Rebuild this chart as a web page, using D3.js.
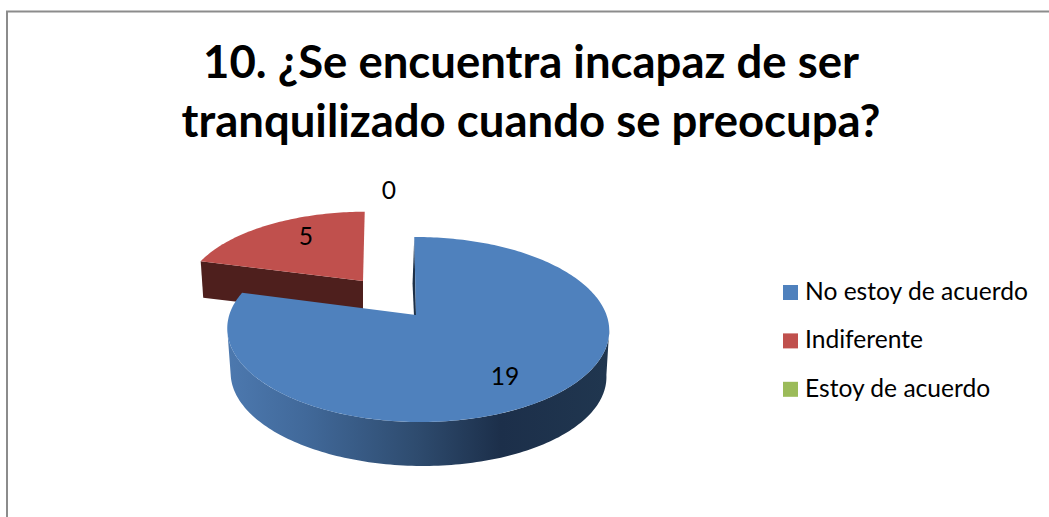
<!DOCTYPE html>
<html>
<head>
<meta charset="utf-8">
<script src="https://cdn.jsdelivr.net/npm/d3@7"></script>
<style>
  html, body { margin: 0; padding: 0; background: #fff; overflow: hidden; }
  text { font-family: Lato, "Open Sans", sans-serif; fill: #000; }
</style>
</head>
<body>
<div id="chart"></div>
<script>
// Data
const categories = ["No estoy de acuerdo", "Indiferente", "Estoy de acuerdo"];
const values = [19, 5, 0];
const colors = ["#4f81bd", "#c0504d", "#9bbb59"];
const titleLines = ["10. ¿Se encuentra incapaz de ser", "tranquilizado cuando se preocupa?"];

const width = 1049;
const height = 517;

// Fake 3D: each slice gets a top and bottom disk in perspective
const tilt = 0.157;
const skewX = -0.01;
const sliceLayout = [
  { top: { x: 416, y: 315, rx: 188.6, ry: 90.2, shear: -2 },
    bottom: { x: 416, y: 360.6, rx: 185.5, ry: 88.8, shear: -4 },
    wall: "#1d3048", label: [505, 375] },
  { top: { x: 363, y: 281, rx: 177, ry: 80.2, shear: 2 },
    bottom: { x: 363, y: 317, rx: 174, ry: 78.6, shear: 1 },
    wall: "#4e1f1d", label: [306, 235] },
  { label: [389, 189] }
];

const color = d3.scaleOrdinal().domain(categories).range(colors);
const pie = d3.pie().sort(null).value(d => d.value);
const arcs = pie(categories.map((name, i) => ({ name, value: values[i] })));

// Unit circle angle (clockwise from top) to screen position
function project(angle, disk, radius = 1) {
  const u = Math.sin(angle) * radius;
  const v = Math.cos(angle) * radius;
  const w = 1 + tilt * v + skewX * u;
  return [disk.x + (disk.rx * u + disk.shear * v) / w, disk.y - disk.ry * v / w];
}

function arcPoints(a0, a1, disk) {
  const n = Math.max(2, Math.ceil(Math.abs(a1 - a0) / 0.02));
  return d3.range(n + 1).map(i => project(a0 + (a1 - a0) * i / n, disk));
}

const line = d3.line();
const svg = d3.select("#chart").append("svg")
  .attr("width", width)
  .attr("height", height)
  .style("display", "block");

// Gradient on the blue outer side
const grad = svg.append("defs").append("linearGradient")
  .attr("id", "blueSide")
  .attr("gradientUnits", "userSpaceOnUse")
  .attr("x1", 230).attr("x2", 606).attr("y1", 0).attr("y2", 0);
[[0, "#4c78ae"], [0.2, "#41699a"], [0.5, "#2e4b6e"], [0.72, "#1c2f4a"], [1, "#20364f"]]
  .forEach(s => grad.append("stop").attr("offset", s[0]).attr("stop-color", s[1]));

// Chart frame, only top and left show
svg.append("path")
  .attr("d", `M7,${height}V11.5H${width}`)
  .attr("fill", "none")
  .attr("stroke", "#8c8c8c")
  .attr("stroke-width", 2);

const title = svg.append("text")
  .attr("x", 531)
  .attr("text-anchor", "middle")
  .attr("font-size", 45.5)
  .attr("font-weight", 700);
titleLines.forEach((t, i) => {
  title.append("tspan").attr("x", 531).attr("y", 77.5 + i * 59).text(t);
});

// Red goes first, blue overlaps it
[1, 0].forEach(i => {
  const d = arcs[i];
  const o = sliceLayout[i];
  const a0 = d.startAngle, a1 = d.endAngle;

  // cut face: start edge of blue, 285 degree edge of red
  const tipTop = project(0, o.top, 0), tipBottom = project(0, o.bottom, 0);
  svg.append("path")
    .attr("d", line([project(a0, o.top), tipTop, tipBottom, project(a0, o.bottom)]) + "Z")
    .attr("fill", o.wall);

  // outer side of the blue slice, between the widest points of the disk
  if (i === 0) {
    const from = Math.acos(-tilt), to = 2 * Math.PI - from;
    const pts = arcPoints(from, to, o.top).concat(arcPoints(to, from, o.bottom));
    svg.append("path")
      .attr("d", line(pts) + "Z")
      .attr("fill", "url(#blueSide)");
  }

  // top face
  svg.append("path")
    .attr("d", line(arcPoints(a0, a1, o.top).concat([tipTop])) + "Z")
    .attr("fill", color(d.data.name));
});

svg.append("g")
  .selectAll("text")
  .data(arcs)
  .join("text")
  .attr("x", (d, i) => sliceLayout[i].label[0])
  .attr("y", (d, i) => sliceLayout[i].label[1])
  .attr("text-anchor", "middle")
  .attr("dominant-baseline", "central")
  .attr("font-size", 24.6)
  .text(d => d.value);

// Legend
const legend = svg.append("g")
  .selectAll("g")
  .data(categories)
  .join("g")
  .attr("transform", (d, i) => `translate(783,${285 + i * 48.4})`);
legend.append("rect")
  .attr("width", 15)
  .attr("height", 15)
  .attr("fill", d => color(d));
legend.append("text")
  .attr("x", 22)
  .attr("y", 15)
  .attr("font-size", 24.6)
  .text(d => d);
</script>
</body>
</html>
